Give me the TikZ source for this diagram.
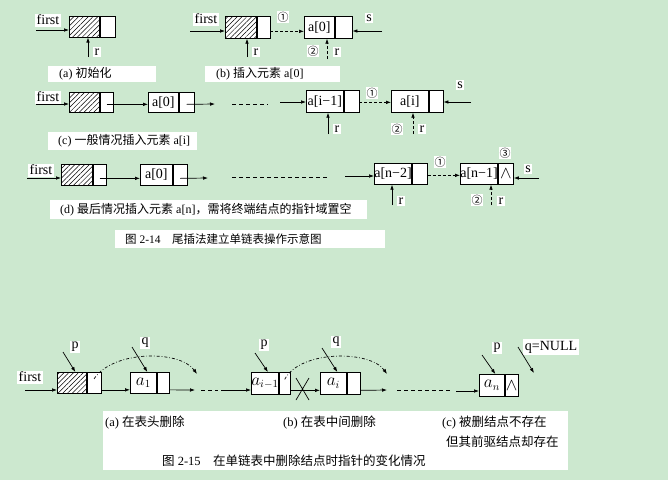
\documentclass[tikz,border=0pt]{standalone}
\usepackage{fontspec}
\setmainfont{Liberation Serif}
\newfontfamily\cjk{Noto Sans CJK SC}
\usetikzlibrary{arrows.meta,patterns.meta}
\definecolor{bgc}{RGB}{204,232,207}
\begin{document}
\begin{tikzpicture}[x=1pt,y=-1pt,
 bx/.style={draw,line width=0.7pt,inner sep=0pt,anchor=north west,fill=white,font=\fontsize{14}{14}\selectfont},
 bxi/.style={bx,font=\fontsize{16}{16}\selectfont},
 hatchbox/.style={draw,line width=0.7pt,inner sep=0pt,anchor=north west,preaction={fill=white},pattern={Lines[angle=45,distance=3.4pt,line width=0.5pt]}},
 lbl/.style={fill=white,inner sep=1.5pt,font=\fontsize{14}{14}\selectfont},
 num/.style={fill=white,inner sep=0.5pt,font=\cjk\fontsize{11}{11}\selectfont},
 arr/.style={line width=0.7pt,-{Latex[length=5pt,width=3.6pt]}},
 darr/.style={arr,dash pattern=on 3pt off 2pt},
 dline/.style={line width=0.7pt,dash pattern=on 4pt off 3pt},
 ddarr/.style={arr,dash pattern=on 3pt off 2pt on 0.7pt off 2pt},
 capbg/.style={fill=white,inner sep=0pt,anchor=north west},
 captext/.style={inner sep=0pt,anchor=west,font=\fontsize{12}{12}\selectfont},
 captextl/.style={inner sep=0pt,anchor=west,font=\fontsize{12.5}{12.5}\selectfont},
]
\useasboundingbox (0,0) rectangle (668,480);
\fill[bgc] (0,0) rectangle (668,480);

% ---------- (a)
\node[hatchbox,minimum width=30pt,minimum height=21pt] (hA) at (69,16) {};
\node[bx,minimum width=15pt,minimum height=21pt] (hAp) at (hA.north east) {};
\node[lbl] (fA) at (48,20) {first};
\coordinate (fA0) at (36,30);
\draw[arr] (fA0) -- (fA0 -| hA.west);
\node[lbl] (rA) at (97,52) {r};
\coordinate (rA0) at (88,57);
\draw[arr] (rA0) -- (rA0 |- hA.south);
\node[capbg,minimum width=108pt,minimum height=16pt] (capA) at (48,66) {};
\node[captext] (capAt) at ([xshift=11pt]capA.west) {(a) {\cjk 初始化}};

% ---------- (b)
\node[hatchbox,minimum width=31pt,minimum height=22pt] (hB) at (225,16) {};
\node[bx,minimum width=13pt,minimum height=22pt] (hBp) at (hB.north east) {};
\node[bx,minimum width=30pt,minimum height=22pt] (b0) at (304,16) {a[0]};
\node[bx,minimum width=17pt,minimum height=22pt] (b0p) at (b0.north east) {};
\node[lbl] (fB) at (206,19) {first};
\coordinate (fB0) at (190,31);
\draw[arr] (fB0) -- (fB0 -| hB.west);
\draw[darr] ([yshift=-4pt]hBp.east) -- ([yshift=-4pt]b0.west);
\node[num] (n1B) at (283,17) {①};
\node[lbl] (sB) at (369,18) {s};
\coordinate (sB0) at (382,31);
\draw[arr] (sB0) -- (sB0 -| b0p.east);
\coordinate (rB0) at (247,57);
\draw[arr] (rB0) -- (rB0 |- hB.south);
\node[lbl] (rB) at (256,52) {r};
\coordinate (rB1) at (327,59);
\draw[darr] (rB1) -- (rB1 |- b0.south);
\node[num] (n2B) at (313,51) {②};
\node[lbl] (rB2) at (337,52) {r};
\node[capbg,minimum width=135pt,minimum height=16pt] (capB) at (205,66) {};
\node[captext] (capBt) at ([xshift=11pt]capB.west) {(b) {\cjk 插入元素} a[0]};

% ---------- (c)
\node[hatchbox,minimum width=30pt,minimum height=20pt] (hC) at (69,92) {};
\node[bx,minimum width=13pt,minimum height=20pt] (hCp) at (hC.north east) {};
\node[lbl] (fC) at (48,97) {first};
\coordinate (fC0) at (36,104);
\draw[arr] (fC0) -- (fC0 -| hC.west);
\node[bx,minimum width=30pt,minimum height=20pt] (c0) at (148,92) {a[0]};
\node[bx,minimum width=15pt,minimum height=20pt] (c0p) at (c0.north east) {};
\draw[arr] ([yshift=-2pt]hCp.center) -- ([yshift=-2pt]c0.west);
\coordinate (cA) at (215,104);
\draw[arr] ([yshift=-2pt]c0p.center) -- (cA);
\coordinate (cD0) at (232,104);
\coordinate (cD1) at (268,104);
\draw[dline] (cD0) -- (cD1);
\node[bx,minimum width=37pt,minimum height=22pt] (ci1) at (306,90) {a[i−1]};
\node[bx,minimum width=15pt,minimum height=22pt] (ci1p) at (ci1.north east) {};
\node[bx,minimum width=37pt,minimum height=22pt] (ci) at (391,90) {a[i]};
\node[bx,minimum width=14pt,minimum height=22pt] (cip) at (ci.north east) {};
\coordinate (cB) at (280,102);
\draw[arr] (cB) -- (cB -| ci1.west);
\draw[darr] ([yshift=-1pt]ci1p.east) -- ([yshift=-1pt]ci.west);
\node[num] (n1C) at (372,93) {①};
\node[lbl] (sC) at (460,85) {s};
\coordinate (sC0) at (471,102);
\draw[arr] (sC0) -- (sC0 -| cip.east);
\coordinate (rC0) at (328,134);
\draw[arr] (rC0) -- (rC0 |- ci1.south);
\node[lbl] (rC) at (337,129) {r};
\coordinate (rC1) at (413,134);
\draw[darr] (rC1) -- (rC1 |- ci.south);
\node[num] (n2C) at (397,129) {②};
\node[lbl] (rC2) at (422,129) {r};
\node[capbg,minimum width=149pt,minimum height=18pt] (capC) at (48,132) {};
\node[captext] (capCt) at ([xshift=10pt]capC.west) {(c) {\cjk 一般情况插入元素} a[i]};

% ---------- (d)
\node[hatchbox,minimum width=31pt,minimum height=21pt] (hD) at (61,164) {};
\node[bx,minimum width=13pt,minimum height=21pt] (hDp) at (hD.north east) {};
\node[lbl] (fD) at (41,170) {first};
\coordinate (fD0) at (27,178);
\draw[arr] (fD0) -- (fD0 -| hD.west);
\node[bx,minimum width=32pt,minimum height=21pt] (d0) at (140,164) {a[0]};
\node[bx,minimum width=14pt,minimum height=21pt] (d0p) at (d0.north east) {};
\draw[arr] ([yshift=-3.5pt]hDp.center) -- ([yshift=-3.5pt]d0.west);
\coordinate (dA) at (208,178);
\draw[arr] ([yshift=-3.5pt]d0p.center) -- (dA);
\coordinate (dD0) at (232,177);
\coordinate (dD1) at (328,177);
\draw[dline] (dD0) -- (dD1);
\node[bx,minimum width=37pt,minimum height=21pt] (dn2) at (374,163) {a[n−2]};
\node[bx,minimum width=15pt,minimum height=21pt] (dn2p) at (dn2.north east) {};
\node[bx,minimum width=37pt,minimum height=21pt] (dn1) at (460,163) {a[n−1]};
\node[bx,minimum width=15pt,minimum height=21pt] (dn1p) at (dn1.north east) {\fontsize{16}{16}\selectfont$\wedge$};
\coordinate (dB) at (345,176);
\draw[arr] (dB) -- (dB -| dn2.west);
\draw[darr] ([yshift=-1.5pt]dn2p.east) -- ([yshift=-1.5pt]dn1.west);
\node[num] (n3D) at (505,153) {③};
\node[num] (n1D) at (440,162) {①};
\node[lbl] (sD) at (528,169) {s};
\coordinate (sD0) at (539,178);
\draw[arr] (sD0) -- (sD0 -| dn1p.east);
\coordinate (rD0) at (392,205);
\draw[arr] (rD0) -- (rD0 |- dn2.south);
\node[lbl] (rD) at (401,201) {r};
\coordinate (rD1) at (491,205);
\draw[darr] (rD1) -- (rD1 |- dn1.south);
\node[num] (n2D) at (477,200) {②};
\node[lbl] (rD2) at (501,201) {r};
\node[capbg,minimum width=317pt,minimum height=19pt] (capD) at (50,200) {};
\node[captext] (capDt) at ([xshift=10pt]capD.west) {(d) {\cjk 最后情况插入元素} a[n]{\cjk ，需将终端结点的指针域置空}};
\node[capbg,minimum width=270pt,minimum height=18pt] (capF) at (115,230) {};
\node[captext,font=\fontsize{11.5}{12}\selectfont] (capFt) at ([xshift=10pt]capF.west) {{\cjk 图} 2-14\hspace{1em}{\cjk 尾插法建立单链表操作示意图}};

% ---------- bottom: deletion
\node[hatchbox,minimum width=29pt,minimum height=21pt] (eH) at (57,372) {};
\node[bx,minimum width=14pt,minimum height=21pt] (eHp) at (eH.north east) {};
\node[lbl] (fE) at (30,377) {first};
\coordinate (fE0) at (25,390);
\draw[arr] (fE0) -- (fE0 -| eH.west);
\node[lbl] (pE) at (75,347) {p};
\coordinate (pE0) at (63,352);
\draw[arr] (pE0) -- ([xshift=3.5pt]eH.north);
\node[bxi,minimum width=26pt,minimum height=21pt] (ea1) at (130,372) {$a_1$};
\node[bx,minimum width=12pt,minimum height=21pt] (ea1p) at (ea1.north east) {};
\draw[arr] ([yshift=-7pt]eHp.east) -- ([yshift=-7pt]ea1.west);
\node[lbl] (qE) at (145,343) {q};
\coordinate (qE0) at (132,347);
\draw[arr] (qE0) -- ([xshift=4pt]ea1.north);
\coordinate (eA) at (197,374);
\draw[ddarr] ([yshift=4pt]eHp.center) .. controls (113,350) and (180,350) .. (eA);
\coordinate (eB) at (195,390);
\draw[arr] ([yshift=-7pt]ea1p.east) -- (eB);
\coordinate (eD0) at (201,390);
\coordinate (eD1) at (218,390);
\draw[dline] (eD0) -- (eD1);
\node[bxi,minimum width=26pt,minimum height=22pt] (ei1) at (251,372) {$a_{i-1}$};
\node[bx,minimum width=11pt,minimum height=22pt] (ei1p) at (ei1.north east) {};
\coordinate (eC) at (221,390);
\draw[arr] (eC) -- (eC -| ei1.west);
\node[lbl] (pF) at (264,345) {p};
\coordinate (pF0) at (255,353);
\draw[arr] (pF0) -- ([xshift=3pt]ei1.north);
\node[bxi,minimum width=26pt,minimum height=22pt] (ei) at (320,372) {$a_i$};
\node[bx,minimum width=13pt,minimum height=22pt] (eip) at (ei.north east) {};
\draw[arr] ([yshift=-7pt]ei1p.east) -- ([yshift=-7pt]ei.west);
\coordinate (x1) at (296,378);
\coordinate (x2) at (309,400);
\coordinate (x3) at (309,378);
\coordinate (x4) at (296,400);
\draw[line width=0.7pt] (x1) -- (x2) (x3) -- (x4);
\node[lbl] (qF) at (336,342) {q};
\coordinate (qF0) at (322,348);
\draw[arr] (qF0) -- ([xshift=4pt]ei.north);
\coordinate (eE) at (387,374);
\draw[ddarr] ([yshift=4pt]ei1p.center) .. controls (300,350) and (370,350) .. (eE);
\coordinate (eF) at (387,390);
\draw[arr] ([yshift=-7pt]eip.east) -- (eF);
\coordinate (eG0) at (397,390);
\coordinate (eG1) at (452,390);
\draw[dline] (eG0) -- (eG1);
\node[bxi,minimum width=25pt,minimum height=22pt] (en) at (479,374) {$a_n$};
\node[bx,minimum width=13pt,minimum height=22pt] (enp) at (en.north east) {\fontsize{16}{16}\selectfont$\wedge$};
\coordinate (eH0) at (456,391);
\draw[arr] (eH0) -- (eH0 -| en.west);
\node[lbl] (pG) at (497,348) {p};
\coordinate (pG0) at (482,355);
\draw[arr] (pG0) -- ([xshift=3.5pt]en.north);
\node[lbl] (qG) at (551,347) {q=NULL};
\coordinate (qG0) at (518,347);
\coordinate (qG1) at (534,373);
\draw[arr] (qG0) -- (qG1);

\node[capbg,minimum width=465pt,minimum height=59pt] (capE) at (103,411) {};
\node[captextl] (capEa) at (105,423) {(a) {\cjk 在表头删除}};
\node[captextl] (capEb) at (283,423) {(b) {\cjk 在表中间删除}};
\node[captextl] (capEc) at (442,423) {(c) {\cjk 被删结点不存在}};
\node[captextl] (capEd) at (446,442) {\cjk 但其前驱结点却存在};
\node[captextl] (capEf) at (162,461) {{\cjk 图} 2-15\hspace{1em}{\cjk 在单链表中删除结点时指针的变化情况}};
\end{tikzpicture}
\end{document}
